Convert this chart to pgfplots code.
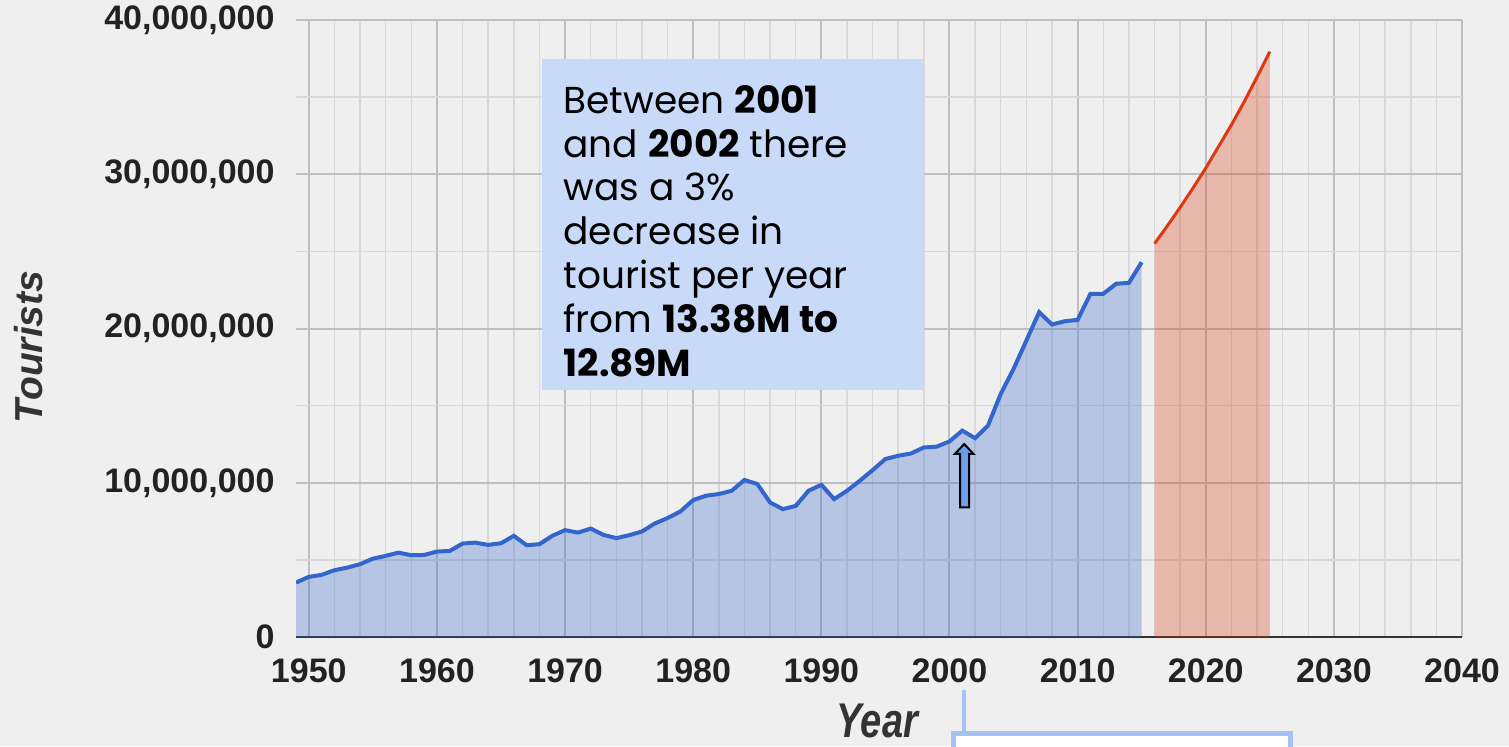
\documentclass[border=0pt]{standalone}
\usepackage{pgfplots}
\pgfplotsset{compat=1.18}
\usepackage{pgfplotstable}
\usepackage{fontspec}
\setmainfont{Liberation Sans}
\newfontfamily\boxfont{Poppins}

\definecolor{bg}{HTML}{EFEFEF}
\definecolor{gridmaj}{HTML}{BFBFBF}
\definecolor{gridmin}{HTML}{D9D9D9}
\definecolor{axisline}{HTML}{333333}
\definecolor{ticktext}{HTML}{222222}
\definecolor{blueline}{HTML}{3366CC}
\definecolor{redline}{HTML}{DC3912}
\definecolor{annot}{HTML}{C9DAF8}
\definecolor{arrowfill}{HTML}{6D9EEB}
\definecolor{callout}{HTML}{A4C2F4}

% tourists per year
\pgfplotstableread{
year tourists
1949 3530000
1950 3900000
1951 4030000
1952 4330000
1953 4500000
1954 4720000
1955 5080000
1956 5260000
1957 5470000
1958 5300000
1959 5320000
1960 5540000
1961 5580000
1962 6060000
1963 6120000
1964 5970000
1965 6080000
1966 6560000
1967 5950000
1968 6020000
1969 6560000
1970 6930000
1971 6770000
1972 7030000
1973 6620000
1974 6410000
1975 6600000
1976 6840000
1977 7360000
1978 7710000
1979 8140000
1980 8880000
1981 9160000
1982 9270000
1983 9480000
1984 10180000
1985 9920000
1986 8720000
1987 8290000
1988 8500000
1989 9480000
1990 9870000
1991 8940000
1992 9480000
1993 10130000
1994 10820000
1995 11540000
1996 11750000
1997 11900000
1998 12290000
1999 12340000
2000 12680000
2001 13380000
2002 12890000
2003 13700000
2004 15760000
2005 17380000
2006 19220000
2007 21060000
2008 20260000
2009 20470000
2010 20560000
2011 22250000
2012 22250000
2013 22900000
2014 22960000
2015 24300000
}\actual

% forecast
\pgfplotstableread{
year tourists
2016 25500000
2017 26650000
2018 27850000
2019 29100000
2020 30400000
2021 31800000
2022 33200000
2023 34700000
2024 36300000
2025 37950000
}\forecast

\begin{document}
\begin{tikzpicture}
\path[fill=bg, use as bounding box] (-118.4pt,-43.6pt) rectangle (485.2pt,254.8pt);

\begin{axis}[
  at={(0pt,0pt)}, anchor=south west,
  scale only axis, width=466.4pt, height=246.8pt,
  xmin=1949, xmax=2040, ymin=0, ymax=40000000,
  xtick={1950,1960,1970,1980,1990,2000,2010,2020,2030,2040},
  ytick={0,10000000,20000000,30000000,40000000},
  minor x tick num=4, minor y tick num=1,
  grid=both,
  major grid style={draw=gridmaj, line width=0.8pt},
  minor grid style={draw=gridmin, line width=0.6pt},
  major tick length=0pt, minor tick length=0pt,
  axis x line*=bottom, axis y line*=left,
  y axis line style={draw=none},
  x axis line style={draw=axisline, line width=1pt},
  scaled y ticks=false,
  no markers,
  /pgf/number format/assume math mode=true,
  ticklabel style={font=\bfseries\fontsize{13.6pt}{16pt}\selectfont, text=ticktext, inner sep=0pt},
  yticklabel style={anchor=east, xshift=-8.4pt, /pgf/number format/fixed, /pgf/number format/1000 sep={,}},
  xticklabel style={anchor=north, yshift=-8.4pt, /pgf/number format/1000 sep={}},
]
\addplot[draw=none, fill=blueline, fill opacity=0.3] table[x=year, y=tourists] {\actual} \closedcycle;
\addplot[blueline, line width=1.6pt] table[x=year, y=tourists] {\actual};
\addplot[draw=none, fill=redline, fill opacity=0.3] table[x=year, y=tourists] {\forecast} \closedcycle;
\addplot[redline, line width=1.2pt] table[x=year, y=tourists] {\forecast};
\end{axis}

% axis titles
\node[rotate=90, text=axisline, font=\bfseries\itshape\fontsize{15.6pt}{18pt}\selectfont] at (-106.8pt,116pt) {Tourists};
\node[anchor=base, inner sep=0pt, text=axisline, font=\bfseries\itshape\fontsize{19.5pt}{24pt}\selectfont] at (232.6pt,-40.0pt) {\scalebox{0.78}[1]{Year}};

% annotation box
\fill[annot] (98.4pt,98.8pt) rectangle (251.2pt,231.2pt);
\begin{scope}[every node/.style={anchor=base west, inner sep=0pt, text=black, font=\boxfont\fontsize{15pt}{17.5pt}\selectfont}]
\node at (106.8pt,209.5pt) {Between \textbf{2001}};
\node at (106.8pt,192.0pt) {and \textbf{2002} there};
\node at (106.8pt,174.5pt) {was a 3\%};
\node at (106.8pt,156.9pt) {decrease in};
\node at (106.8pt,139.4pt) {tourist per year};
\node at (106.8pt,121.9pt) {from \textbf{13.38M to}};
\node at (106.8pt,104.4pt) {\textbf{12.89M}};
\end{scope}

% arrow at 2001
\filldraw[fill=arrowfill, draw=black, line width=0.8pt, line join=miter]
  (265.6pt,51.9pt) -- (269.2pt,51.9pt) -- (269.2pt,73.3pt) -- (270.9pt,73.3pt)
  -- (267.3pt,77.2pt) -- (263.6pt,73.3pt) -- (265.6pt,73.3pt) -- cycle;

% callout below the axis, cut by the picture's edge
\begin{scope}
\clip (-118.4pt,-43.6pt) rectangle (485.2pt,254.8pt);
\draw[callout, line width=1.6pt] (267.2pt,-21.2pt) -- (267.2pt,-38.4pt);
\filldraw[fill=white, draw=callout, line width=2pt] (262.8pt,-38.4pt) rectangle (397.6pt,-60pt);
\end{scope}
\end{tikzpicture}
\end{document}
